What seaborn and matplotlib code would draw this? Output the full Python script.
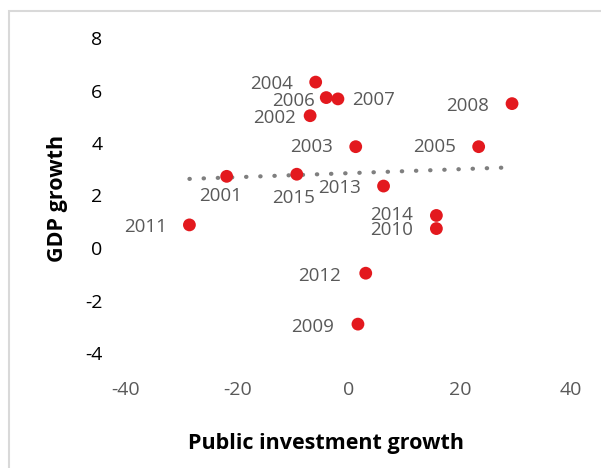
import matplotlib.pyplot as plt
import matplotlib.patches as mpatches
import seaborn as sns
import pandas as pd

sns.set_theme(style="white")
plt.rcParams['font.family'] = ['Open Sans', 'DejaVu Sans']
plt.rcParams['axes.unicode_minus'] = False

# values
years = ["2001", "2002", "2003", "2004", "2005", "2006", "2007", "2008",
         "2009", "2010", "2011", "2012", "2013", "2014", "2015"]
invest_growth = [-21.9, -6.9, 1.3, -5.9, 23.4, -4.0, -1.9, 29.4,
                 1.7, 15.8, -28.6, 3.1, 6.3, 15.8, -9.3]
gdp_growth = [2.73, 5.04, 3.86, 6.32, 3.86, 5.73, 5.68, 5.5,
              -2.9, 0.74, 0.88, -0.96, 2.36, 1.24, 2.81]

df = pd.DataFrame({"year": years, "inv": invest_growth, "gdp": gdp_growth})

# label offsets (pixels, relative to point)
label_off = {
    "2001": (-6, -20), "2002": (-36, -2), "2003": (-44, 0), "2004": (-44, -2),
    "2005": (-44, 0), "2006": (-33, -3), "2007": (36, -1), "2008": (-44, -2),
    "2009": (-45, -3), "2010": (-45, -1), "2011": (-44, -2), "2012": (-46, -3),
    "2013": (-44, -2), "2014": (-45, 0), "2015": (-3, -24),
}

fig = plt.figure(figsize=(6.01, 4.68), dpi=100)
ax = fig.add_axes([126 / 601, 115 / 468, 445 / 601, 315 / 468])

# outer chart frame
fig.patches.append(mpatches.Rectangle((9 / 601, -0.1), 1.2, (468 - 11) / 468 + 0.1,
                                      transform=fig.transFigure, fill=False,
                                      edgecolor="#D9D9D9", linewidth=1.5))

sns.regplot(data=df, x="inv", y="gdp", scatter=False, ci=None, ax=ax,
            line_kws=dict(color="#7F7F7F", linewidth=3, linestyle=(0, (0.1, 3.3)),
                          dash_capstyle="round"))
sns.scatterplot(data=df, x="inv", y="gdp", color="#E3191E", s=85,
                edgecolor="none", ax=ax, zorder=3, clip_on=False)

for _, r in df.iterrows():
    ax.annotate(r["year"], (r["inv"], r["gdp"]), xytext=label_off[r["year"]],
                textcoords="offset pixels", ha="center", va="center",
                fontsize=13.5, color="#595959", zorder=4)

ax.set_xlim(-40, 40)
ax.set_ylim(-4, 8)
ax.set_xticks([-40, -20, 0, 20, 40])
ax.set_yticks([-4, -2, 0, 2, 4, 6, 8])
ax.tick_params(axis="x", labelsize=14, labelcolor="#595959", pad=20, length=0)
ax.tick_params(axis="y", labelsize=14, labelcolor="black", pad=17, length=0)
sns.despine(ax=ax, left=True, bottom=True)

ax.set_xlabel("Public investment growth", fontsize=15.5, fontweight="bold", color="black")
ax.set_ylabel("GDP growth", fontsize=15.5, fontweight="bold", color="black")
ax.xaxis.set_label_coords((326 - 126) / 445, (353 - 443) / 315)
ax.xaxis.label.set_va("center")
ax.yaxis.set_label_coords((58 - 126) / 445, (353 - 198) / 315)
ax.yaxis.label.set_va("center")

fig.savefig("out.png", dpi=100)
